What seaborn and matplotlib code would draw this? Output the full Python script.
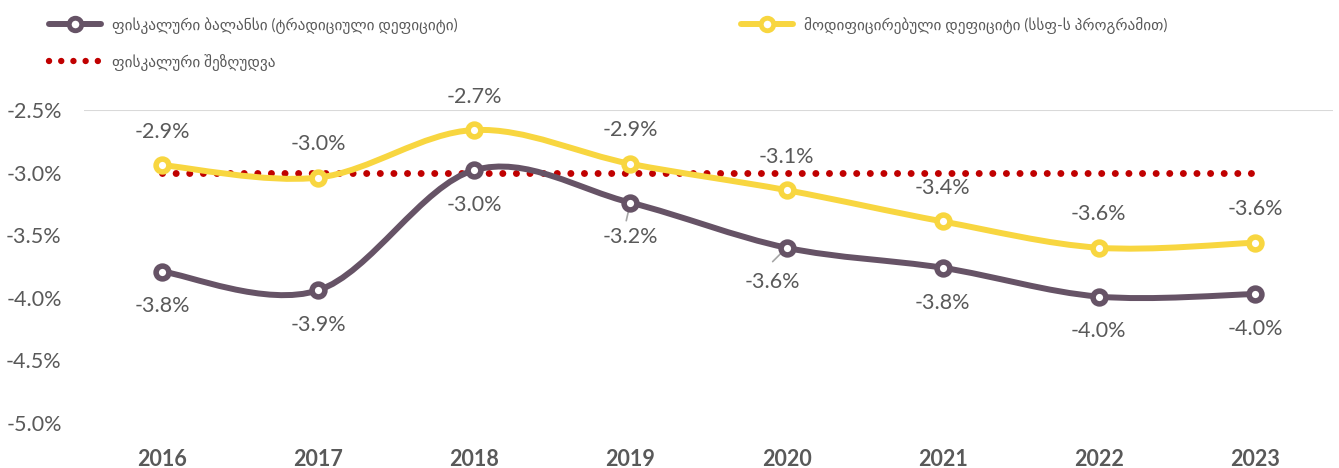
import numpy as np
import pandas as pd
import matplotlib
matplotlib.use('Agg')
import matplotlib.pyplot as plt
import seaborn as sns
from matplotlib.path import Path
from matplotlib.patches import PathPatch
from matplotlib.lines import Line2D
from matplotlib.ticker import FuncFormatter

# data (percent of GDP)
years = ['2016', '2017', '2018', '2019', '2020', '2021', '2022', '2023']
fiscal_balance = [-3.79, -3.94, -2.98, -3.24, -3.60, -3.76, -3.99, -3.97]
modified_deficit = [-2.94, -3.04, -2.66, -2.93, -3.14, -3.39, -3.60, -3.56]
fiscal_limit = [-3.0] * len(years)

label_balance = 'ფისკალური ბალანსი (ტრადიციული დეფიციტი)'
label_modified = 'მოდიფიცირებული დეფიციტი (სსფ-ს პროგრამით)'
label_limit = 'ფისკალური შეზღუდვა'

purple = '#665366'
yellow = '#F8D640'
red = '#C00000'
grey = '#595959'

sns.set_theme(style='white')
plt.rcParams['font.family'] = ['Lato', 'DejaVu Sans']

df = pd.DataFrame({'x': np.arange(len(years)), 'balance': fiscal_balance,
                   'modified': modified_deficit, 'limit': fiscal_limit})


def smooth_path(xs, ys):
    # excel-like smoothed line: catmull-rom segments as cubic beziers
    pts = np.column_stack([xs, ys]).astype(float)
    n = len(pts)
    verts = [pts[0]]
    codes = [Path.MOVETO]
    for i in range(n - 1):
        p0 = pts[i - 1] if i > 0 else pts[i]
        p1, p2 = pts[i], pts[i + 1]
        p3 = pts[i + 2] if i + 2 < n else pts[i + 1]
        c1 = p1 + (p2 - p0) / 6.0
        c2 = p2 - (p3 - p1) / 6.0
        verts += [c1, c2, p2]
        codes += [Path.CURVE4] * 3
    return Path(verts, codes)


fig = plt.figure(figsize=(13.39, 4.68), dpi=100)
ax = fig.add_axes([0.0627, 0.096, 0.9328, 0.669])

# fiscal limit, dotted
ax.plot(df['x'], df['limit'], color=red, lw=5, linestyle=(0, (0.01, 1.95)),
        dash_capstyle='round', zorder=2)

for col, color in [('modified', yellow), ('balance', purple)]:
    ax.add_patch(PathPatch(smooth_path(df['x'], df[col]), facecolor='none',
                           edgecolor=color, lw=4.3, capstyle='round', zorder=3))
    sns.scatterplot(data=df, x='x', y=col, ax=ax, s=85, color='white',
                    edgecolor=color, linewidth=4, zorder=4, legend=False)

# data labels
for i, v in enumerate(modified_deficit):
    ax.annotate(f'{v:.1f}%', (i, v), xytext=(0, 24), textcoords='offset points',
                ha='center', va='center', fontsize=15.5, color=grey)
for i, v in enumerate(fiscal_balance):
    dx = 0
    if years[i] == '2020':
        dx = -10
    ax.annotate(f'{v:.1f}%', (i, v), xytext=(dx, -25), textcoords='offset points',
                ha='center', va='center', fontsize=15.5, color=grey)

# small leader lines
ax.annotate('', xy=(3, fiscal_balance[3]), xytext=(-3, -13), textcoords='offset points',
            xycoords='data', arrowprops=dict(arrowstyle='-', color='#A6A6A6', lw=1.2,
                                             shrinkA=0, shrinkB=3))
ax.annotate('', xy=(4, fiscal_balance[4]), xytext=(-10, -10), textcoords='offset points',
            xycoords='data', arrowprops=dict(arrowstyle='-', color='#A6A6A6', lw=1.2,
                                             shrinkA=0, shrinkB=3))

ax.set_xlim(-0.5, len(years) - 0.5)
ax.set_ylim(-5.0, -2.5)
ax.set_yticks(np.arange(-5.0, -2.49, 0.5))
ax.yaxis.set_major_formatter(FuncFormatter(lambda v, p: f'{v:.1f}%'))
ax.set_xticks(df['x'])
ax.set_xticklabels(years, fontsize=15.5, fontweight='bold', color=grey)
ax.tick_params(axis='y', labelsize=15.5, labelcolor=grey, length=0, pad=16)
ax.tick_params(axis='x', length=0, pad=19)
ax.set_xlabel('')
ax.set_ylabel('')
ax.axhline(-2.5, color='#D9D9D9', lw=1.5, zorder=1)
for s in ax.spines.values():
    s.set_visible(False)
ax.grid(False)

handles = [
    Line2D([], [], color=purple, lw=4.3, marker='o', ms=9, mfc='white', mec=purple, mew=3.5),
    Line2D([], [], color=red, lw=4.6, linestyle=(0, (0.01, 1.9)), dash_capstyle='round'),
    Line2D([], [], color=yellow, lw=4.3, marker='o', ms=9, mfc='white', mec=yellow, mew=3.5),
]
leg = fig.legend(handles, [label_balance, label_limit, label_modified], ncol=2,
                 loc='upper left', bbox_to_anchor=(0.024, 1.0), frameon=False,
                 fontsize=11, handlelength=3.4, columnspacing=18.6, labelspacing=1.3,
                 handletextpad=0.7, borderaxespad=0.7)
for t in leg.get_texts():
    t.set_color(grey)

fig.savefig('out.png', dpi=100, facecolor='white')
